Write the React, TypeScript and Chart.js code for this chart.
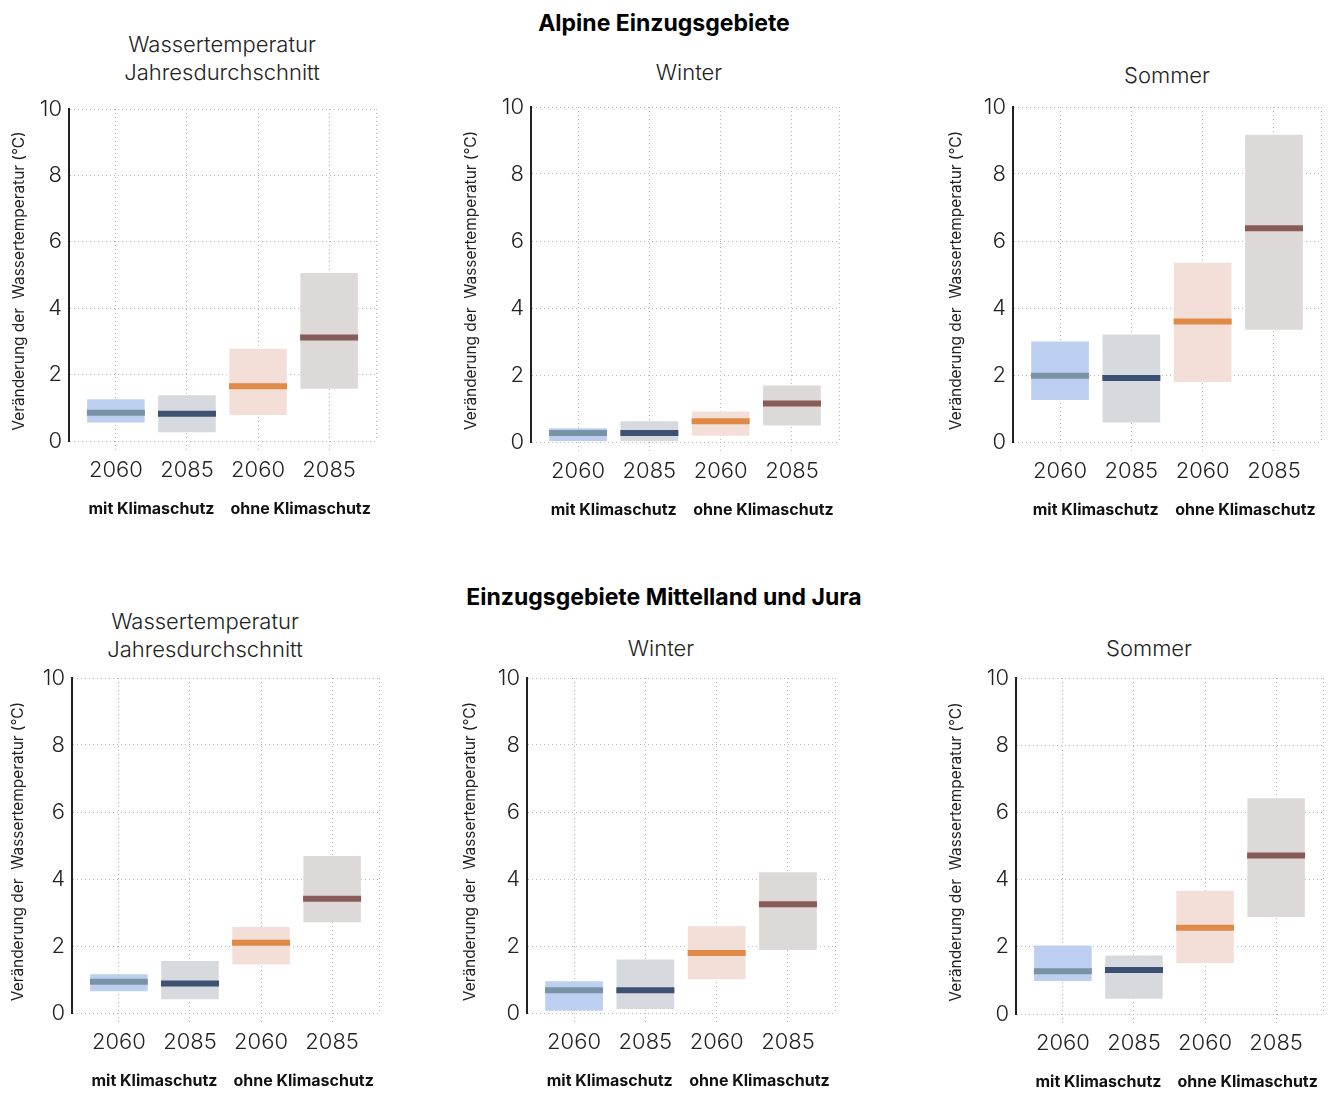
import React, { useEffect, useRef } from 'react';
import { Chart, registerables } from 'chart.js';

Chart.register(...registerables);

// ---- data ----
const categories = ['2060', '2085', '2060', '2085'];
const groupLabels = ['mit Klimaschutz', 'ohne Klimaschutz'];
const yTitle = 'Veränderung der  Wassertemperatur (°C)';
const mainTitles = ['Alpine Einzugsgebiete', 'Einzugsgebiete Mittelland und Jura'];
const panelTitles = [
  ['Wassertemperatur', 'Jahresdurchschnitt'],
  ['Winter'],
  ['Sommer'],
  ['Wassertemperatur', 'Jahresdurchschnitt'],
  ['Winter'],
  ['Sommer'],
];

// Alpine Einzugsgebiete
const alpYearLow = [0.57, 0.27, 0.79, 1.58];
const alpYearHigh = [1.25, 1.37, 2.77, 5.05];
const alpYearMed = [0.85, 0.82, 1.65, 3.12];

const alpWinterLow = [0.04, 0.04, 0.2, 0.5];
const alpWinterHigh = [0.4, 0.61, 0.9, 1.68];
const alpWinterMed = [0.27, 0.27, 0.62, 1.15];

const alpSummerLow = [1.26, 0.59, 1.8, 3.36];
const alpSummerHigh = [2.99, 3.2, 5.34, 9.16];
const alpSummerMed = [1.98, 1.91, 3.6, 6.38];

// Mittelland und Jura
const mjYearLow = [0.66, 0.42, 1.46, 2.72];
const mjYearHigh = [1.15, 1.54, 2.56, 4.68];
const mjYearMed = [0.93, 0.88, 2.1, 3.41];

const mjWinterLow = [0.08, 0.13, 1.02, 1.89];
const mjWinterHigh = [0.94, 1.59, 2.58, 4.19];
const mjWinterMed = [0.68, 0.68, 1.79, 3.25];

const mjSummerLow = [0.99, 0.46, 1.53, 2.9];
const mjSummerHigh = [2.03, 1.73, 3.66, 6.41];
const mjSummerMed = [1.27, 1.31, 2.57, 4.72];

// ---- styles ----
const boxColors = ['#bccff0', '#d6d9de', '#f3dfd8', '#ddd9d9'];
const medColors = ['#7a93a4', '#3f5173', '#e08a48', '#875b57'];
const gridColor = '#b8b8b8';
const FONT = 'Inter, "Noto Sans", Lato, sans-serif';

type Geo = { axisX: number; right: number; y10: number; y0: number; yTitleDx: number };

const panels: { low: number[]; high: number[]; med: number[]; geo: Geo }[] = [
  { low: alpYearLow, high: alpYearHigh, med: alpYearMed, geo: { axisX: 69, right: 376, y10: 109, y0: 441, yTitleDx: -50 } },
  { low: alpWinterLow, high: alpWinterHigh, med: alpWinterMed, geo: { axisX: 531, right: 839, y10: 107, y0: 442, yTitleDx: -60 } },
  { low: alpSummerLow, high: alpSummerHigh, med: alpSummerMed, geo: { axisX: 1013, right: 1321, y10: 107, y0: 442, yTitleDx: -57 } },
  { low: mjYearLow, high: mjYearHigh, med: mjYearMed, geo: { axisX: 72, right: 379, y10: 678, y0: 1013, yTitleDx: -54 } },
  { low: mjWinterLow, high: mjWinterHigh, med: mjWinterMed, geo: { axisX: 527, right: 835, y10: 678, y0: 1013, yTitleDx: -57 } },
  { low: mjSummerLow, high: mjSummerHigh, med: mjSummerMed, geo: { axisX: 1016, right: 1323, y10: 678, y0: 1014, yTitleDx: -60 } },
];

const titlePos = [
  { x: 222, y: 44 },
  { x: 689, y: 72 },
  { x: 1167, y: 75 },
  { x: 205, y: 621 },
  { x: 661, y: 648 },
  { x: 1149, y: 648 },
];
const mainTitlePos = [
  { x: 664, y: 23 },
  { x: 664, y: 597 },
];

const L = 69; // y axis box width
const T = 20; // top padding
const R = 10; // right padding
const H = 80; // x axis box height
const X_MIN = -0.66;
const X_MAX = 3.66;
const groupCenters = [0.5, 2.6];

const annotPlugin = {
  id: 'annot',
  afterDraw(chart: any, _args: any, opts: any) {
    const { ctx, chartArea, scales } = chart;
    const x = scales.x;
    ctx.save();
    ctx.fillStyle = '#111';
    ctx.textAlign = 'center';
    ctx.textBaseline = 'middle';
    ctx.font = `700 16px ${FONT}`;
    groupLabels.forEach((g, i) => {
      ctx.fillText(g, x.getPixelForValue(groupCenters[i]), chartArea.bottom + 68);
    });
    ctx.translate(chartArea.left + opts.dx, (chartArea.top + chartArea.bottom) / 2 + 6);
    ctx.rotate(-Math.PI / 2);
    ctx.fillStyle = '#222';
    ctx.font = `400 15.4px ${FONT}`;
    ctx.fillText(yTitle, 0, 0);
    ctx.restore();
  },
};

function Panel({ low, high, med, geo }: { low: number[]; high: number[]; med: number[]; geo: Geo }) {
  const ref = useRef<HTMLCanvasElement>(null);
  const width = L + (geo.right - geo.axisX) + R;
  const height = T + (geo.y0 - geo.y10) + H;

  useEffect(() => {
    if (!ref.current) return;
    const chart = new Chart(ref.current, {
      type: 'bar',
      data: {
        datasets: [
          {
            type: 'line',
            data: categories.map((_, i) => ({ x: i, y: med[i] })),
            showLine: false,
            pointStyle: 'line',
            pointRadius: 29,
            pointHoverRadius: 29,
            pointBorderWidth: 6,
            pointHoverBorderWidth: 6,
            pointBorderColor: medColors,
            pointBackgroundColor: medColors,
            clip: false,
            order: 1,
          } as any,
          {
            type: 'bar',
            data: categories.map((_, i) => ({ x: i, y: [low[i], high[i]] })),
            backgroundColor: boxColors,
            borderWidth: 0,
            barThickness: 'flex',
            barPercentage: 0.8,
            categoryPercentage: 1,
            order: 2,
          } as any,
        ],
      },
      options: {
        animation: false,
        responsive: false,
        maintainAspectRatio: false,
        layout: { autoPadding: false, padding: { top: T, right: R, left: 0, bottom: 0 } },
        plugins: {
          legend: { display: false },
          tooltip: { enabled: false },
          annot: { dx: geo.yTitleDx },
        } as any,
        scales: {
          x: {
            type: 'linear',
            min: X_MIN,
            max: X_MAX,
            offset: false,
            afterBuildTicks: (s: any) => {
              s.ticks = [X_MIN, 0, 1, 2, 3, X_MAX].map((v) => ({ value: v }));
            },
            afterFit: (s: any) => {
              s.height = H;
              s.paddingLeft = 0;
              s.paddingRight = 0;
            },
            ticks: {
              autoSkip: false,
              maxRotation: 0,
              minRotation: 0,
              padding: 4,
              color: '#222',
              font: { family: FONT, size: 22, weight: '300' },
              callback: (v: any) => (Number.isInteger(v) && v >= 0 && v <= 3 ? categories[v] : ''),
            },
            grid: {
              offset: false,
              drawTicks: true,
              tickLength: 12,
              lineWidth: 1,
              color: (c: any) => (c.index === 0 ? 'rgba(0,0,0,0)' : gridColor),
              tickColor: (c: any) => (c.index >= 1 && c.index <= 4 ? gridColor : 'rgba(0,0,0,0)'),
              tickBorderDash: [1, 3],
            },
            border: { display: false, dash: [1, 3] },
          } as any,
          y: {
            type: 'linear',
            min: 0,
            max: 10,
            afterFit: (s: any) => {
              s.width = L;
              s.paddingTop = 0;
              s.paddingBottom = 0;
            },
            ticks: {
              stepSize: 2,
              padding: 7,
              color: '#222',
              font: { family: FONT, size: 22, weight: '300' },
            },
            grid: {
              drawTicks: false,
              lineWidth: 1,
              color: gridColor,
            },
            border: { display: true, color: '#222', width: 2, dash: [1, 3] },
          } as any,
        },
      },
      plugins: [annotPlugin],
    });
    return () => chart.destroy();
  }, []);

  return (
    <canvas
      ref={ref}
      width={width}
      height={height}
      style={{
        position: 'absolute',
        left: geo.axisX - L,
        top: geo.y10 - T,
        width,
        height,
      }}
    />
  );
}

export default function App() {
  return (
    <div
      style={{
        position: 'absolute',
        left: 0,
        top: 0,
        width: 1331,
        height: 1093,
        background: '#fff',
        fontFamily: FONT,
        color: '#222',
      }}
    >
      {mainTitles.map((t, i) => (
        <div
          key={'m' + i}
          style={{
            position: 'absolute',
            left: mainTitlePos[i].x - 300,
            width: 600,
            top: mainTitlePos[i].y - 14,
            lineHeight: '28px',
            fontSize: 23,
            fontWeight: 700,
            textAlign: 'center',
            color: '#000',
            whiteSpace: 'nowrap',
          }}
        >
          {t}
        </div>
      ))}
      {panelTitles.map((lines, i) => (
        <div
          key={'t' + i}
          style={{
            position: 'absolute',
            left: titlePos[i].x - 200,
            width: 400,
            top: titlePos[i].y - 14,
            lineHeight: '28px',
            fontSize: 22,
            fontWeight: 300,
            textAlign: 'center',
            whiteSpace: 'nowrap',
          }}
        >
          {lines.map((l, j) => (
            <div key={j}>{l}</div>
          ))}
        </div>
      ))}
      {panels.map((p, i) => (
        <Panel key={i} low={p.low} high={p.high} med={p.med} geo={p.geo} />
      ))}
    </div>
  );
}
